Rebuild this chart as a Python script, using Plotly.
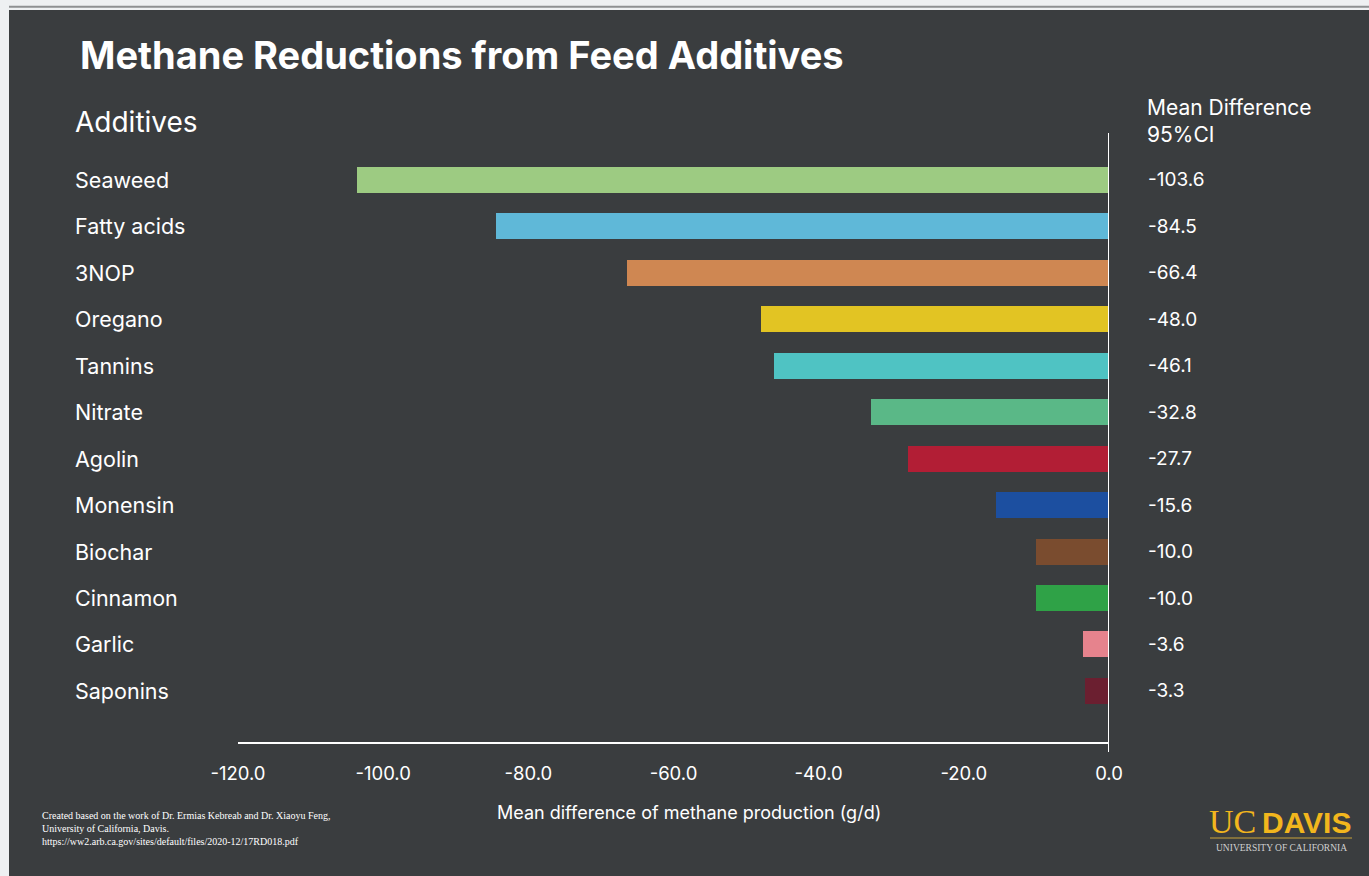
import plotly.graph_objects as go

categories = ["Seaweed", "Fatty acids", "3NOP", "Oregano", "Tannins", "Nitrate",
              "Agolin", "Monensin", "Biochar", "Cinnamon", "Garlic", "Saponins"]
values = [-103.6, -84.5, -66.4, -48.0, -46.1, -32.8, -27.7, -15.6, -10.0, -10.0, -3.6, -3.3]
colors = ["#9dcb82", "#5fb8d8", "#cf8752", "#e2c423", "#4fc3c3", "#5ab887",
          "#b21e35", "#1c4fa0", "#7a4c2f", "#2fa247", "#e6838d", "#6b1f30"]
tick_vals = [-120, -100, -80, -60, -40, -20, 0]
tick_text = [f"{v:.1f}" for v in tick_vals]

W, H = 1369, 876
L, R, T, B = 238, 1109, 133, 742
PW, PH = R - L, B - T

def px(x):
    return (x - L) / PW

def py(y):
    return (B - y) / PH

BG = "#3a3d3f"
LIGHT = "#eef0f2"
FONT = "Inter"

fig = go.Figure()
fig.add_trace(go.Bar(
    y=categories, x=values, orientation="h",
    marker=dict(color=colors, line=dict(width=0)),
    width=0.56, hoverinfo="x+y"
))

annotations = []
for c, v in zip(categories, values):
    annotations.append(dict(x=px(73), y=c, xref="paper", yref="y", text=c,
                            showarrow=False, xanchor="left", yanchor="middle",
                            font=dict(family=FONT, size=21.5, color="#ffffff")))
    annotations.append(dict(x=px(1146), y=c, xref="paper", yref="y", text=f"{v:.1f}",
                            showarrow=False, xanchor="left", yanchor="middle",
                            font=dict(family=FONT, size=19, color="#ffffff")))

annotations += [
    dict(x=px(78), y=py(55), xref="paper", yref="paper", text="<b>Methane Reductions from Feed Additives</b>",
         showarrow=False, xanchor="left", yanchor="middle",
         font=dict(family=FONT, size=38, color="#ffffff")),
    dict(x=px(73), y=py(122), xref="paper", yref="paper", text="Additives",
         showarrow=False, xanchor="left", yanchor="middle",
         font=dict(family=FONT, size=28, color="#ffffff")),
    dict(x=px(1145), y=py(121), xref="paper", yref="paper", text="Mean Difference<br>95%CI",
         showarrow=False, xanchor="left", yanchor="middle", align="left",
         font=dict(family=FONT, size=21, color="#ffffff")),
    dict(x=px(689), y=py(812), xref="paper", yref="paper", text="Mean difference of methane production (g/d)",
         showarrow=False, xanchor="center", yanchor="middle",
         font=dict(family=FONT, size=18, color="#ffffff")),
    dict(x=px(40), y=py(828), xref="paper", yref="paper",
         text="Created based on the work of Dr. Ermias Kebreab and Dr. Xiaoyu Feng,<br>University of California, Davis.<br>https://ww2.arb.ca.gov/sites/default/files/2020-12/17RD018.pdf",
         showarrow=False, xanchor="left", yanchor="middle", align="left",
         font=dict(family="Liberation Serif", size=10, color="#ffffff")),
    dict(x=px(1207), y=py(821), xref="paper", yref="paper", text="UC",
         showarrow=False, xanchor="left", yanchor="middle",
         font=dict(family="Liberation Serif", size=34, color="#f2b61d")),
    dict(x=px(1260), y=py(822), xref="paper", yref="paper", text="<b>DAVIS</b>",
         showarrow=False, xanchor="left", yanchor="middle",
         font=dict(family="Liberation Sans", size=30, color="#f2b61d")),
    dict(x=px(1281), y=py(847.5), xref="paper", yref="paper", text="UNIVERSITY OF CALIFORNIA",
         showarrow=False, xanchor="center", yanchor="middle",
         font=dict(family="Liberation Serif", size=9.5, color="#d0d0d0")),
]

shapes = [
    dict(type="rect", xref="paper", yref="paper", x0=px(0), x1=px(W), y0=py(10), y1=py(0),
         fillcolor=LIGHT, line=dict(width=0), layer="below"),
    dict(type="rect", xref="paper", yref="paper", x0=px(0), x1=px(9), y0=py(H), y1=py(0),
         fillcolor=LIGHT, line=dict(width=0), layer="below"),
    dict(type="line", xref="paper", yref="paper", x0=px(9), x1=px(W), y0=py(6.8), y1=py(6.8),
         line=dict(color="#8e9092", width=2)),
    dict(type="line", xref="x", yref="paper", x0=0, x1=0, y0=py(752), y1=py(133),
         line=dict(color="#ffffff", width=2)),
    dict(type="line", xref="paper", yref="paper", x0=px(1210), x1=px(1352), y0=py(838), y1=py(838),
         line=dict(color="#c9a43a", width=1)),
]

fig.update_layout(
    width=W, height=H,
    margin=dict(l=L, r=W - R, t=T, b=H - B),
    paper_bgcolor=BG, plot_bgcolor=BG,
    showlegend=False,
    bargap=0,
    xaxis=dict(range=[-120, 0], tickvals=tick_vals, ticktext=tick_text,
               showgrid=False, zeroline=False, showline=True, linecolor="#ffffff", linewidth=2,
               ticks="", ticklabelstandoff=14,
               tickfont=dict(family=FONT, size=18.5, color="#ffffff")),
    yaxis=dict(range=[12.1, -1.01], showticklabels=False, showgrid=False, zeroline=False,
               showline=False, ticks=""),
    annotations=annotations,
    shapes=shapes,
)

fig.write_html("out.html")
